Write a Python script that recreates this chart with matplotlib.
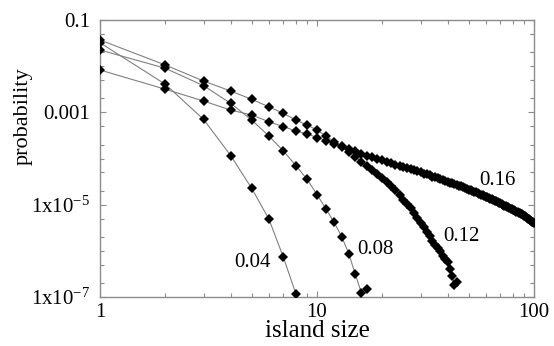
import numpy as np
import matplotlib
matplotlib.use("Agg")
import matplotlib.pyplot as plt
from matplotlib.ticker import FixedLocator, NullFormatter

plt.rcParams['font.family'] = ['Liberation Serif', 'DejaVu Serif']
plt.rcParams['mathtext.fontset'] = 'custom'
plt.rcParams['mathtext.rm'] = 'Liberation Serif'
plt.rcParams['mathtext.it'] = 'Liberation Serif:italic'

# ---- data ----
size_004 = [1, 2, 3, 4, 5, 6, 7, 8]
prob_004 = [3.22e-2, 4.05e-3, 7.06e-4, 1.16e-4, 2.26e-5, 4.90e-6, 7.24e-7, 1.16e-7]

size_008 = list(range(1, 18))
prob_008 = [2.24e-2, 9.0e-3, 3.78e-3, 1.57e-3, 6.82e-4, 3.07e-4, 1.46e-4, 6.98e-5,
            3.55e-5, 1.66e-5, 8.05e-6, 4.11e-6, 2.02e-6, 8.75e-7, 3.15e-7, 1.25e-7,
            1.49e-7]

size_012 = list(range(1, 45))
prob_012 = [8.26e-3, 3.16e-3, 1.76e-3, 1.12e-3, 8.75e-4, 6.27e-4, 4.89e-4, 3.94e-4,
            3.40e-4, 2.85e-4, 2.45e-4, 2.11e-4, 1.77e-4, 1.38e-4, 1.08e-4, 8.61e-5,
            6.89e-5, 5.64e-5, 4.51e-5, 3.78e-5, 3.10e-5, 2.54e-5, 2.03e-5, 1.62e-5,
            1.29e-5, 1.04e-5, 8.26e-6, 6.61e-6, 5.14e-6, 4.01e-6, 3.21e-6, 2.56e-6,
            2.05e-6, 1.67e-6, 1.37e-6, 1.15e-6, 9.93e-7, 7.73e-7, 6.65e-7, 5.60e-7,
            4.05e-7, 2.85e-7, 1.82e-7, 2.11e-7]

size_016 = list(range(1, 101))
prob_016 = [3.69e-2, 1.06e-2, 4.77e-3, 2.90e-3, 1.91e-3, 1.32e-3, 9.5e-4, 6.8e-4,
            5.3e-4, 4.14e-4, 3.07e-4, 2.31e-4, 1.91e-4, 1.61e-4, 1.42e-4, 1.28e-4,
            1.16e-4, 1.08e-4, 1.00e-4, 9.3e-5, 8.6e-5, 8.0e-5, 7.4e-5, 6.9e-5,
            6.4e-5, 6.1e-5, 5.8e-5, 5.5e-5, 5.24e-5, 4.98e-5, 4.73e-5, 4.51e-5,
            4.29e-5, 4.07e-5, 3.88e-5, 3.69e-5, 3.51e-5, 3.42e-5, 3.26e-5, 3.10e-5,
            2.94e-5, 2.88e-5, 2.74e-5, 2.67e-5, 2.58e-5, 2.48e-5, 2.38e-5, 2.29e-5,
            2.20e-5, 2.12e-5, 2.04e-5, 1.97e-5, 1.90e-5, 1.84e-5, 1.77e-5, 1.71e-5,
            1.66e-5, 1.60e-5, 1.56e-5, 1.50e-5, 1.46e-5, 1.42e-5, 1.36e-5, 1.31e-5,
            1.26e-5, 1.22e-5, 1.18e-5, 1.14e-5, 1.10e-5, 1.06e-5, 1.03e-5, 9.93e-6,
            9.59e-6, 9.31e-6, 8.99e-6, 8.73e-6, 8.47e-6, 8.18e-6, 7.94e-6, 7.71e-6,
            7.52e-6, 7.30e-6, 7.08e-6, 6.87e-6, 6.70e-6, 6.50e-6, 6.31e-6, 6.15e-6,
            5.97e-6, 5.74e-6, 5.55e-6, 5.32e-6, 5.14e-6, 4.97e-6, 4.78e-6, 4.61e-6,
            4.45e-6, 4.30e-6, 4.15e-6, 4.01e-6]

series_labels = ["0.04", "0.08", "0.12", "0.16"]

x_ticks = [1, 10, 100]
x_ticklabels = ["1", "10", "100"]
y_ticks = [1e-7, 1e-5, 1e-3, 1e-1]
y_ticklabels = [r"1x10$^{-7}$", r"1x10$^{-5}$", "0.001", "0.1"]

# ---- figure ----
fig = plt.figure(figsize=(5.54, 3.46), dpi=100)
ax = fig.add_axes([100/554, 1-297/346, 434/554, 277/346])

line_col = '#808080'
for sx, sy in [(size_004, prob_004), (size_008, prob_008),
               (size_012, prob_012), (size_016, prob_016)]:
    ax.plot(sx, sy, '-', color=line_col, lw=0.8, zorder=2)
    ax.plot(sx, sy, 'D', color='black', ms=4.9, mew=0, zorder=3)

ax.set_xscale('log')
ax.set_yscale('log')
ax.set_xlim(1, 100)
ax.set_ylim(1e-7, 1e-1)

ax.xaxis.set_major_locator(FixedLocator(x_ticks))
ax.set_xticklabels(x_ticklabels)
xminor = [m * d for d in (1, 10) for m in range(2, 10)]
ax.xaxis.set_minor_locator(FixedLocator(xminor))
ax.xaxis.set_minor_formatter(NullFormatter())

ax.yaxis.set_major_locator(FixedLocator(y_ticks))
ax.set_yticklabels(y_ticklabels)
yminor = []
for e in range(-7, -1):
    for m in (1, 2, 5):
        v = m * 10.0**e
        if v not in y_ticks:
            yminor.append(v)
yminor += [2e-2, 5e-2]
ax.yaxis.set_minor_locator(FixedLocator(yminor))
ax.yaxis.set_minor_formatter(NullFormatter())

frame_col = '#8c8c8c'
for sp in ax.spines.values():
    sp.set_color(frame_col)
    sp.set_linewidth(1.0)
ax.tick_params(which='both', direction='in', top=True, right=True,
               color=frame_col, width=0.8, labelsize=15)
ax.tick_params(which='major', length=4.5)
ax.tick_params(which='minor', length=3)
ax.tick_params(axis='x', which='major', pad=4)
ax.tick_params(axis='y', which='major', pad=7)

ax.set_xlabel("island size", fontsize=18, labelpad=-1)
fig.text(23/554, 1-116/346, "probability", rotation=90, fontsize=16,
         ha='center', va='center')

label_pos = [(0.3525, 0.126), (0.634, 0.173), (0.832, 0.220), (0.915, 0.422)]
for lab, (fx, fy) in zip(series_labels, label_pos):
    ax.text(fx, fy, lab, transform=ax.transAxes, fontsize=15,
            ha='center', va='center')

fig.savefig("out.png", dpi=100)
